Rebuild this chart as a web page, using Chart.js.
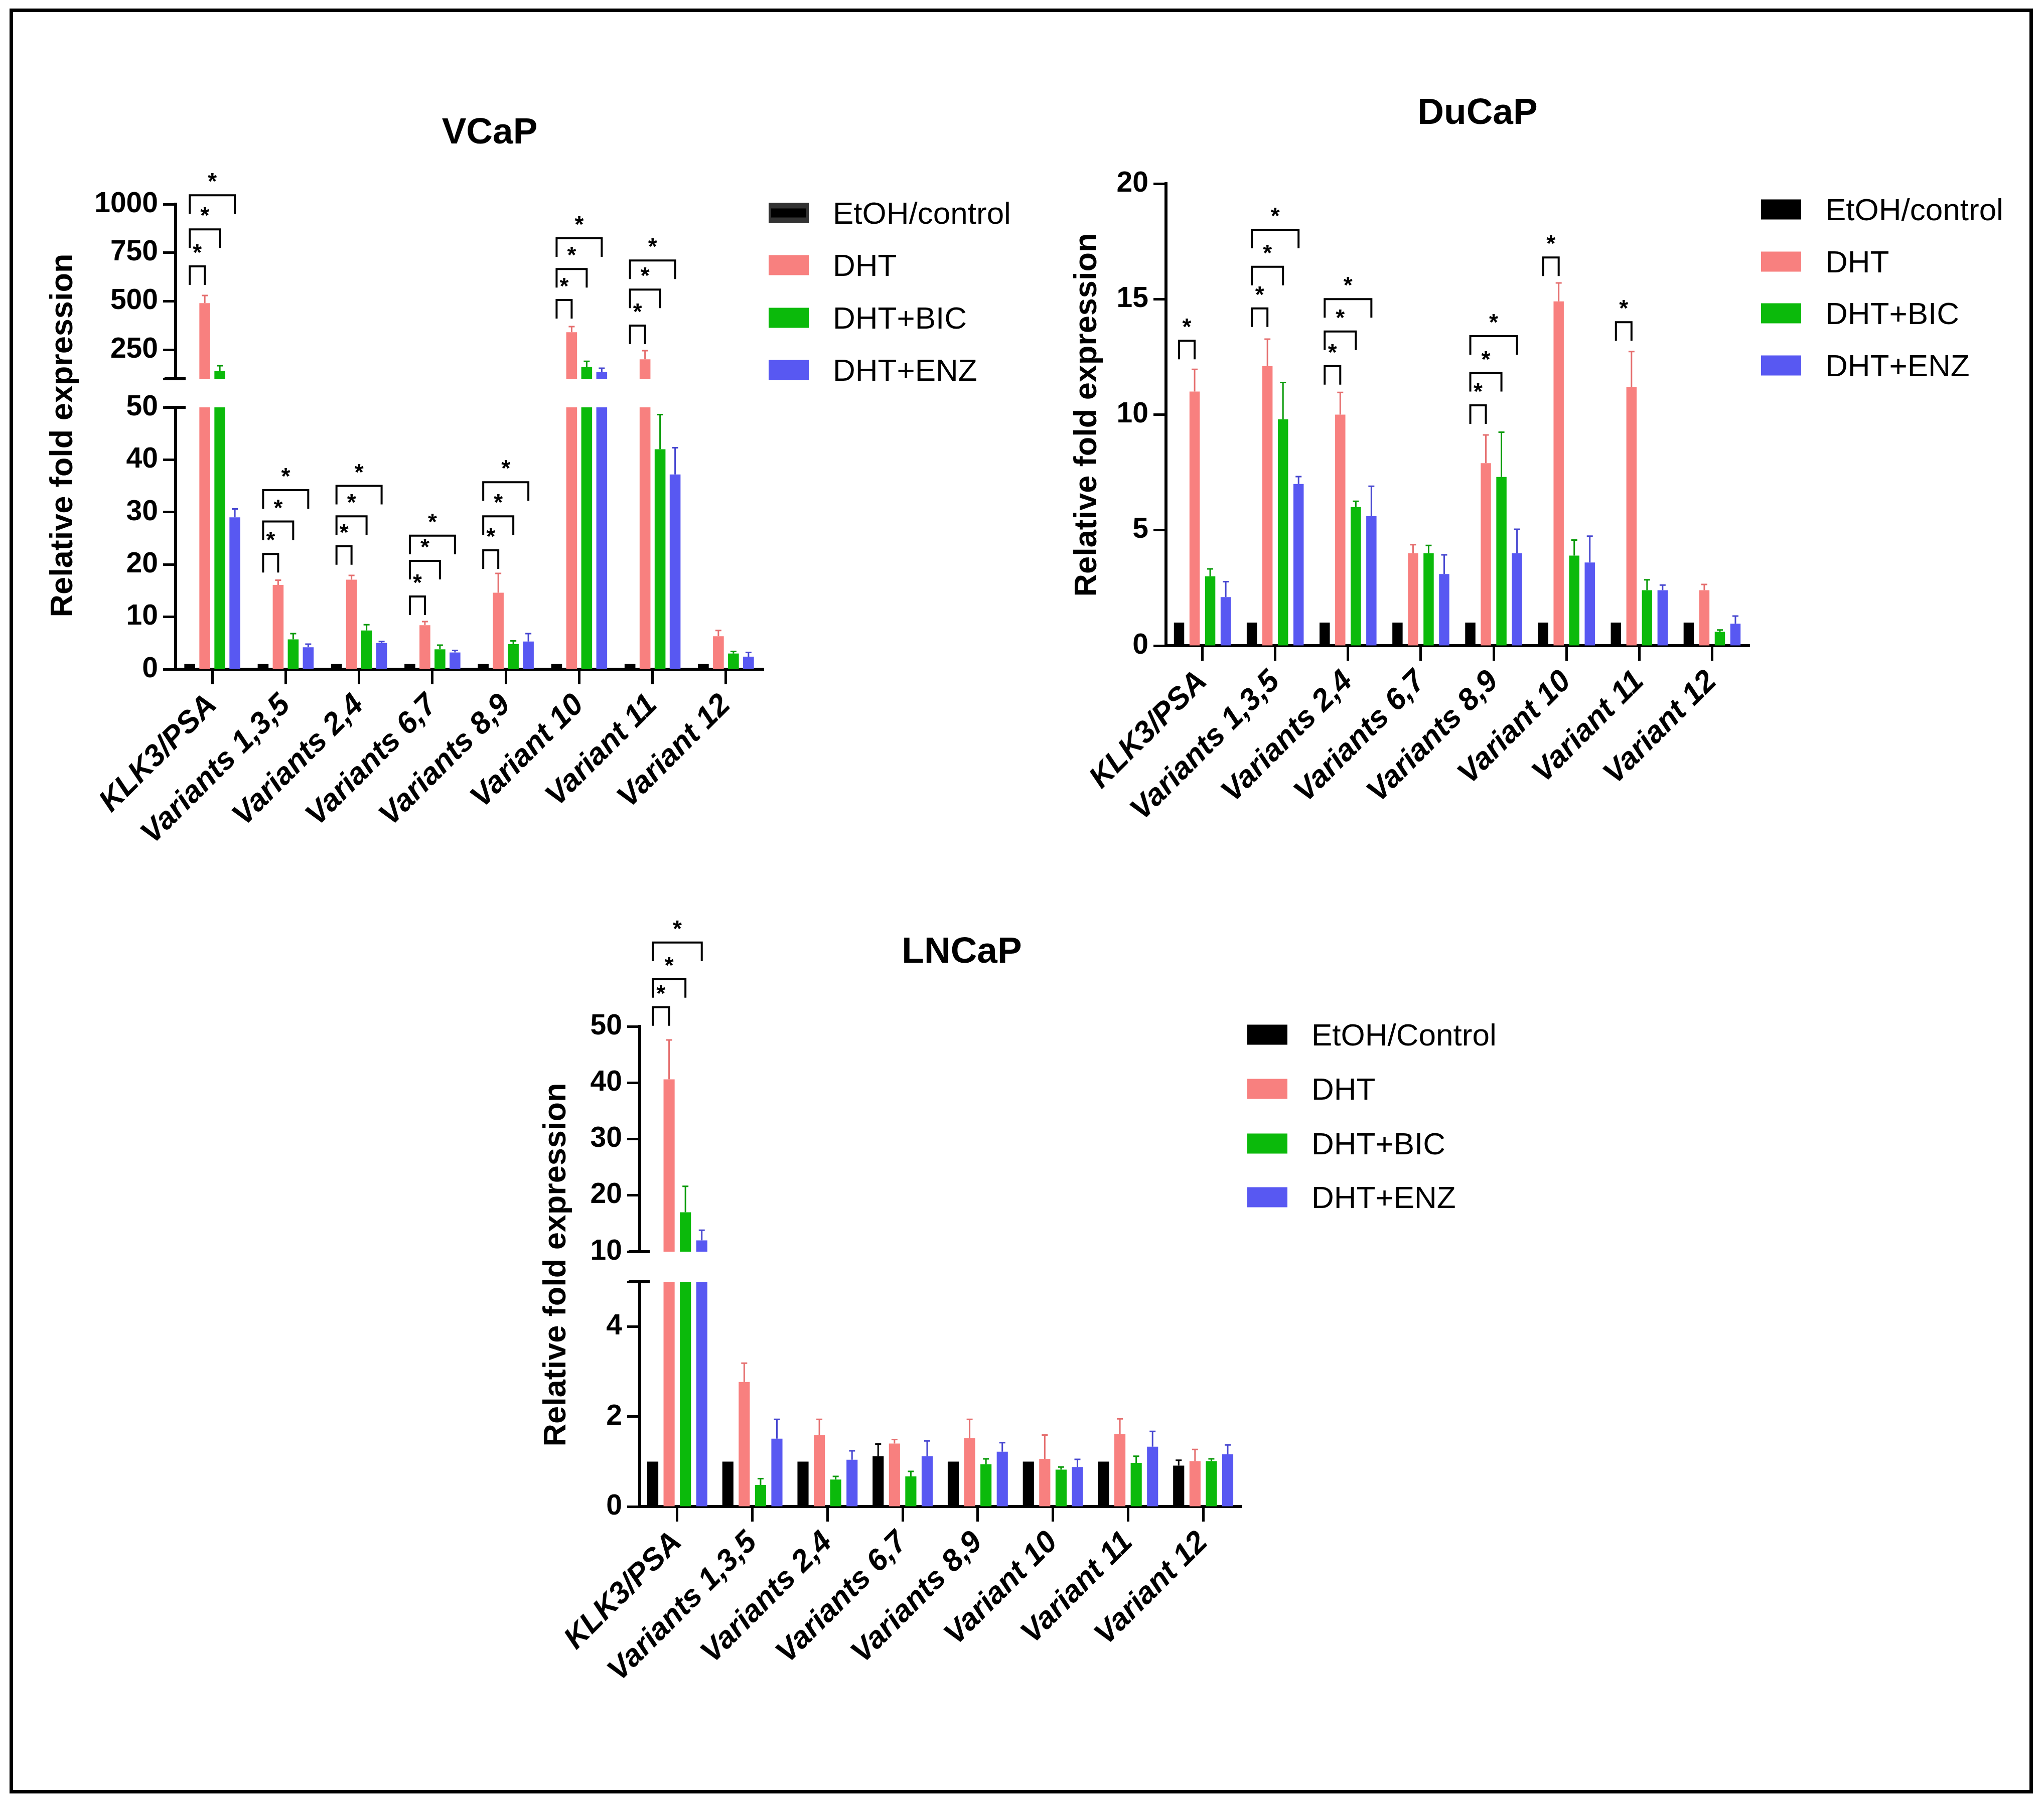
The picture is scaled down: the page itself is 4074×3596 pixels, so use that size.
<!DOCTYPE html>
<html>
<head>
<meta charset="utf-8">
<script src="https://cdn.jsdelivr.net/npm/chart.js@4.4.1/dist/chart.umd.min.js"></script>
<style>
  html, body { margin: 0; padding: 0; background: #fff; }
  #page { position: relative; width: 4074px; height: 3596px; background: #fff; overflow: hidden;
          font-family: "Liberation Sans", Arial, sans-serif; color: #000; }
  #frame { position: absolute; left: 19px; top: 17px; width: 4019px; height: 3544px; border: 7px solid #000; }
  canvas { position: absolute; }
  .title { position: absolute; font-weight: bold; font-size: 73px; transform: translate(-50%, -50%); white-space: nowrap; }
  .ytitle { position: absolute; font-weight: bold; font-size: 63px; white-space: nowrap;
            transform: translate(-50%, -50%) rotate(-90deg); }
  .leg { position: absolute; display: flex; align-items: center; font-size: 62px; white-space: nowrap;
         transform: translateY(-50%); }
  .sw { width: 80px; height: 40px; margin-right: 48px; box-sizing: border-box; }
</style>
</head>
<body>
<div id="page">
  <div id="frame"></div>

  <div class="title" style="left:976px;top:260px">VCaP</div>
  <div class="title" style="left:2945px;top:221px">DuCaP</div>
  <div class="title" style="left:1917px;top:1893px">LNCaP</div>

  <div class="ytitle" style="left:122px;top:868px">Relative fold expression</div>
  <div class="ytitle" style="left:2163px;top:827px">Relative fold expression</div>
  <div class="ytitle" style="left:1105px;top:2521px">Relative fold expression</div>

  <canvas id="vcapTop"></canvas>
  <canvas id="vcapLow"></canvas>
  <canvas id="ducap"></canvas>
  <canvas id="lncapTop"></canvas>
  <canvas id="lncapLow"></canvas>
</div>

<script>
const categories = ['KLK3/PSA', 'Variants 1,3,5', 'Variants 2,4', 'Variants 6,7',
                    'Variants 8,9', 'Variant 10', 'Variant 11', 'Variant 12'];
const treatments = ['EtOH/control', 'DHT', 'DHT+BIC', 'DHT+ENZ'];
const treatmentsLn = ['EtOH/Control', 'DHT', 'DHT+BIC', 'DHT+ENZ'];

// VCaP means and SEM
const vcapEtoh = [1, 1, 1, 1, 1, 1, 1, 1];
const vcapDht = [490, 16.1, 17.1, 8.4, 14.6, 340, 200, 6.3];
const vcapBic = [141, 5.7, 7.4, 3.8, 4.8, 160, 42, 3.0];
const vcapEnz = [29, 4.2, 5.0, 3.2, 5.3, 134, 37.2, 2.4];
const vcapEtohSem = [0, 0, 0, 0, 0, 0, 0, 0];
const vcapDhtSem = [39, 0.9, 0.8, 0.7, 3.7, 29, 45, 1.1];
const vcapBicSem = [26, 1.1, 1.1, 0.8, 0.6, 30, 6.6, 0.4];
const vcapEnzSem = [1.6, 0.6, 0.3, 0.4, 1.5, 20, 5.1, 0.8];

// DuCaP means and SEM
const ducapEtoh = [1, 1, 1, 1, 1, 1, 1, 1];
const ducapDht = [11.0, 12.1, 10.0, 4.0, 7.9, 14.9, 11.2, 2.4];
const ducapBic = [3.0, 9.8, 6.0, 4.0, 7.3, 3.9, 2.4, 0.6];
const ducapEnz = [2.1, 7.0, 5.6, 3.1, 4.0, 3.6, 2.4, 0.95];
const ducapEtohSem = [0, 0, 0, 0, 0, 0, 0, 0];
const ducapDhtSem = [0.96, 1.17, 0.96, 0.37, 1.22, 0.8, 1.53, 0.25];
const ducapBicSem = [0.32, 1.59, 0.25, 0.34, 1.94, 0.67, 0.45, 0.08];
const ducapEnzSem = [0.67, 0.32, 1.3, 0.83, 1.04, 1.14, 0.22, 0.33];

// LNCaP means and SEM
const lncapEtoh = [1, 1, 1, 1.12, 1, 1, 1, 0.91];
const lncapDht = [40.6, 2.77, 1.59, 1.40, 1.52, 1.06, 1.61, 1.01];
const lncapBic = [17.0, 0.48, 0.60, 0.67, 0.94, 0.82, 0.97, 1.01];
const lncapEnz = [12.0, 1.51, 1.04, 1.12, 1.22, 0.88, 1.33, 1.16];
const lncapEtohSem = [0, 0, 0, 0.27, 0, 0, 0, 0.12];
const lncapDhtSem = [7.0, 0.42, 0.35, 0.09, 0.42, 0.53, 0.34, 0.26];
const lncapBicSem = [4.6, 0.14, 0.07, 0.11, 0.12, 0.06, 0.15, 0.05];
const lncapEnzSem = [1.8, 0.43, 0.20, 0.34, 0.20, 0.17, 0.34, 0.21];

// significance brackets: [category, compared treatment, bracket height on that axis]
const vcapTopBrackets = [[0, 1, 679], [0, 2, 870], [0, 3, 1046],
                         [5, 1, 506], [5, 2, 666], [5, 3, 824],
                         [6, 1, 374], [6, 2, 560], [6, 3, 710]];
const vcapLowBrackets = [[1, 1, 22.0], [1, 2, 28.2], [1, 3, 34.2],
                         [2, 1, 23.5], [2, 2, 29.2], [2, 3, 35.0],
                         [3, 1, 13.9], [3, 2, 20.7], [3, 3, 25.5],
                         [4, 1, 22.7], [4, 2, 29.2], [4, 3, 35.7]];
const ducapBrackets = [[0, 1, 13.2],
                       [1, 1, 14.6], [1, 2, 16.4], [1, 3, 18.0],
                       [2, 1, 12.1], [2, 2, 13.6], [2, 3, 15.0],
                       [4, 1, 10.4], [4, 2, 11.8], [4, 3, 13.4],
                       [5, 1, 16.8], [6, 1, 14.0]];
const lncapTopBrackets = [[0, 1, 53.4], [0, 2, 58.4], [0, 3, 64.9]];

// y tick values per axis segment
const vcapTopTicks = [100, 250, 500, 750, 1000];
const vcapLowTicks = [0, 10, 20, 30, 40, 50];
const ducapTicks = [0, 5, 10, 15, 20];
const lncapTopTicks = [10, 20, 30, 40, 50];
const lncapLowTicks = [0, 2, 4, 5];

const fills = ['#000000', '#F8807F', '#0BBA0B', '#5858F2'];
const errColors = ['#000000', '#E56E6E', '#089A08', '#4646D0'];
const FONT = '"Liberation Sans", Arial, sans-serif';

Chart.defaults.font.family = FONT;
Chart.defaults.color = '#000';

// error bars, significance brackets and axis-break caps
const barExtras = {
  id: 'barExtras',
  afterDatasetsDraw(chart, args, opts) {
    const ctx = chart.ctx;
    const y = chart.scales.y;
    const area = chart.chartArea;
    ctx.save();
    chart.data.datasets.forEach((ds, i) => {
      chart.getDatasetMeta(i).data.forEach((bar, j) => {
        const v = ds.data[j], e = ds.sem[j];
        if (!e || v < y.min || v > y.max) return;
        const top = y.getPixelForValue(v + e);
        ctx.strokeStyle = ds.errColor;
        ctx.lineWidth = 3;
        ctx.beginPath();
        ctx.moveTo(bar.x, bar.y);
        ctx.lineTo(bar.x, top);
        ctx.moveTo(bar.x - 6, top);
        ctx.lineTo(bar.x + 6, top);
        ctx.stroke();
      });
    });

    ctx.strokeStyle = '#000';
    ctx.fillStyle = '#000';
    ctx.lineWidth = 4;
    ctx.font = 'bold 46px ' + FONT;
    ctx.textAlign = 'center';
    ctx.textBaseline = 'alphabetic';
    (opts.brackets || []).forEach(([cat, s, level]) => {
      const x0 = chart.getDatasetMeta(0).data[cat].x;
      const x1 = chart.getDatasetMeta(s).data[cat].x;
      const yy = y.getPixelForValue(level);
      ctx.beginPath();
      ctx.moveTo(x0, yy + 37);
      ctx.lineTo(x0, yy);
      ctx.lineTo(x1, yy);
      ctx.lineTo(x1, yy + 37);
      ctx.stroke();
      ctx.fillText('*', (x0 + x1) / 2, yy - 12);
    });

    ctx.lineWidth = 6;
    const caps = [];
    if (opts.capTop) caps.push(area.top);
    if (opts.capBottom) caps.push(area.bottom);
    caps.forEach(py => {
      ctx.beginPath();
      ctx.moveTo(area.left - 22, py);
      ctx.lineTo(area.left + 20, py);
      ctx.stroke();
    });
    ctx.restore();
  }
};

function segment(id, box, seg) {
  const canvas = document.getElementById(id);
  const yW = 250;
  const xH = seg.showX ? 400 : 0;
  canvas.width = yW + box.width + 20;
  canvas.height = seg.padTop + box.height + seg.padBottom + xH;

  const series = seg.series;
  const chart = new Chart(canvas, {
    type: 'bar',
    data: {
      labels: categories,
      datasets: series.map((s, i) => ({
        label: treatments[i],
        data: s[0],
        sem: s[1],
        backgroundColor: fills[i],
        errColor: errColors[i],
        borderWidth: 0,
        categoryPercentage: seg.catPct,
        barPercentage: seg.barPct,
        clip: 0
      }))
    },
    options: {
      responsive: false,
      maintainAspectRatio: false,
      devicePixelRatio: 1,
      animation: false,
      events: [],
      layout: { padding: { top: seg.padTop, bottom: seg.padBottom, left: 0, right: 20 } },
      plugins: {
        legend: { display: false },
        tooltip: { enabled: false },
        barExtras: { brackets: seg.brackets, capTop: seg.capTop, capBottom: seg.capBottom }
      },
      scales: {
        x: {
          display: seg.showX,
          offset: true,
          grid: { drawOnChartArea: false, drawTicks: true, offset: false, tickLength: 30,
                  tickWidth: 5, tickColor: '#000', color: '#000', lineWidth: 5 },
          border: { display: true, color: '#000', width: 6 },
          ticks: { autoSkip: false, minRotation: 45, maxRotation: 45, padding: 6, color: '#000',
                   font: { size: 61, weight: 'bold', style: 'italic' } },
          afterFit: s => { s.height = xH; }
        },
        y: {
          min: seg.ticks[0],
          max: seg.ticks[seg.ticks.length - 1],
          beginAtZero: false,
          afterBuildTicks: s => { s.ticks = seg.ticks.map(v => ({ value: v })); },
          grid: { drawOnChartArea: false, tickLength: 25, tickWidth: 5, tickColor: '#000', color: '#000' },
          border: { color: '#000', width: 6 },
          ticks: { padding: 10, color: '#000', font: { size: 57, weight: 'bold' },
                   callback: v => (seg.unlabeled || []).includes(v) ? '' : String(v) },
          afterFit: s => { s.width = yW; }
        }
      }
    },
    plugins: [barExtras]
  });

  // put the plot area exactly on the target box
  const a = chart.chartArea;
  canvas.style.left = (box.left - a.left) + 'px';
  canvas.style.top = (box.top - a.top) + 'px';
  return chart;
}

const vcapSeries = [[vcapEtoh, vcapEtohSem], [vcapDht, vcapDhtSem], [vcapBic, vcapBicSem], [vcapEnz, vcapEnzSem]];
const ducapSeries = [[ducapEtoh, ducapEtohSem], [ducapDht, ducapDhtSem], [ducapBic, ducapBicSem], [ducapEnz, ducapEnzSem]];
const lncapSeries = [[lncapEtoh, lncapEtohSem], [lncapDht, lncapDhtSem], [lncapBic, lncapBicSem], [lncapEnz, lncapEnzSem]];

segment('vcapTop', { left: 350, top: 407, width: 1170, height: 348 }, {
  series: vcapSeries, ticks: vcapTopTicks, unlabeled: [100], brackets: vcapTopBrackets,
  padTop: 160, padBottom: 50, showX: false, capBottom: true, catPct: 0.82, barPct: 0.72
});
segment('vcapLow', { left: 350, top: 812, width: 1170, height: 522 }, {
  series: vcapSeries, ticks: vcapLowTicks, brackets: vcapLowBrackets,
  padTop: 60, padBottom: 10, showX: true, capTop: true, catPct: 0.82, barPct: 0.72
});
segment('ducap', { left: 2324, top: 366, width: 1161, height: 921 }, {
  series: ducapSeries, ticks: ducapTicks, brackets: ducapBrackets,
  padTop: 80, padBottom: 10, showX: true, catPct: 0.855, barPct: 0.66
});
segment('lncapTop', { left: 1275, top: 2046, width: 1198, height: 449 }, {
  series: lncapSeries, ticks: lncapTopTicks, brackets: lncapTopBrackets,
  padTop: 300, padBottom: 50, showX: false, capBottom: true, catPct: 0.87, barPct: 0.68
});
segment('lncapLow', { left: 1275, top: 2555, width: 1198, height: 448 }, {
  series: lncapSeries, ticks: lncapLowTicks, unlabeled: [5],
  padTop: 60, padBottom: 10, showX: true, capTop: true, catPct: 0.87, barPct: 0.68
});

// legends
function legend(left, rows, labels, firstThin) {
  const page = document.getElementById('page');
  labels.forEach((text, i) => {
    const row = document.createElement('div');
    row.className = 'leg';
    row.style.left = left + 'px';
    row.style.top = rows[i] + 'px';
    const sw = document.createElement('div');
    sw.className = 'sw';
    if (i === 0 && firstThin) {
      sw.style.border = '5px solid #333';
      sw.style.borderTopWidth = '11px';
      sw.style.borderBottomWidth = '11px';
      sw.style.backgroundColor = '#000';
    } else {
      sw.style.background = fills[i];
    }
    const span = document.createElement('span');
    span.textContent = text;
    row.appendChild(sw);
    row.appendChild(span);
    page.appendChild(row);
  });
}
legend(1532, [424, 528, 633, 737], treatments, true);
legend(3510, [417, 521, 624, 728], treatments, false);
legend(2486, [2062, 2170, 2279, 2386], treatmentsLn, false);
</script>
</body>
</html>
